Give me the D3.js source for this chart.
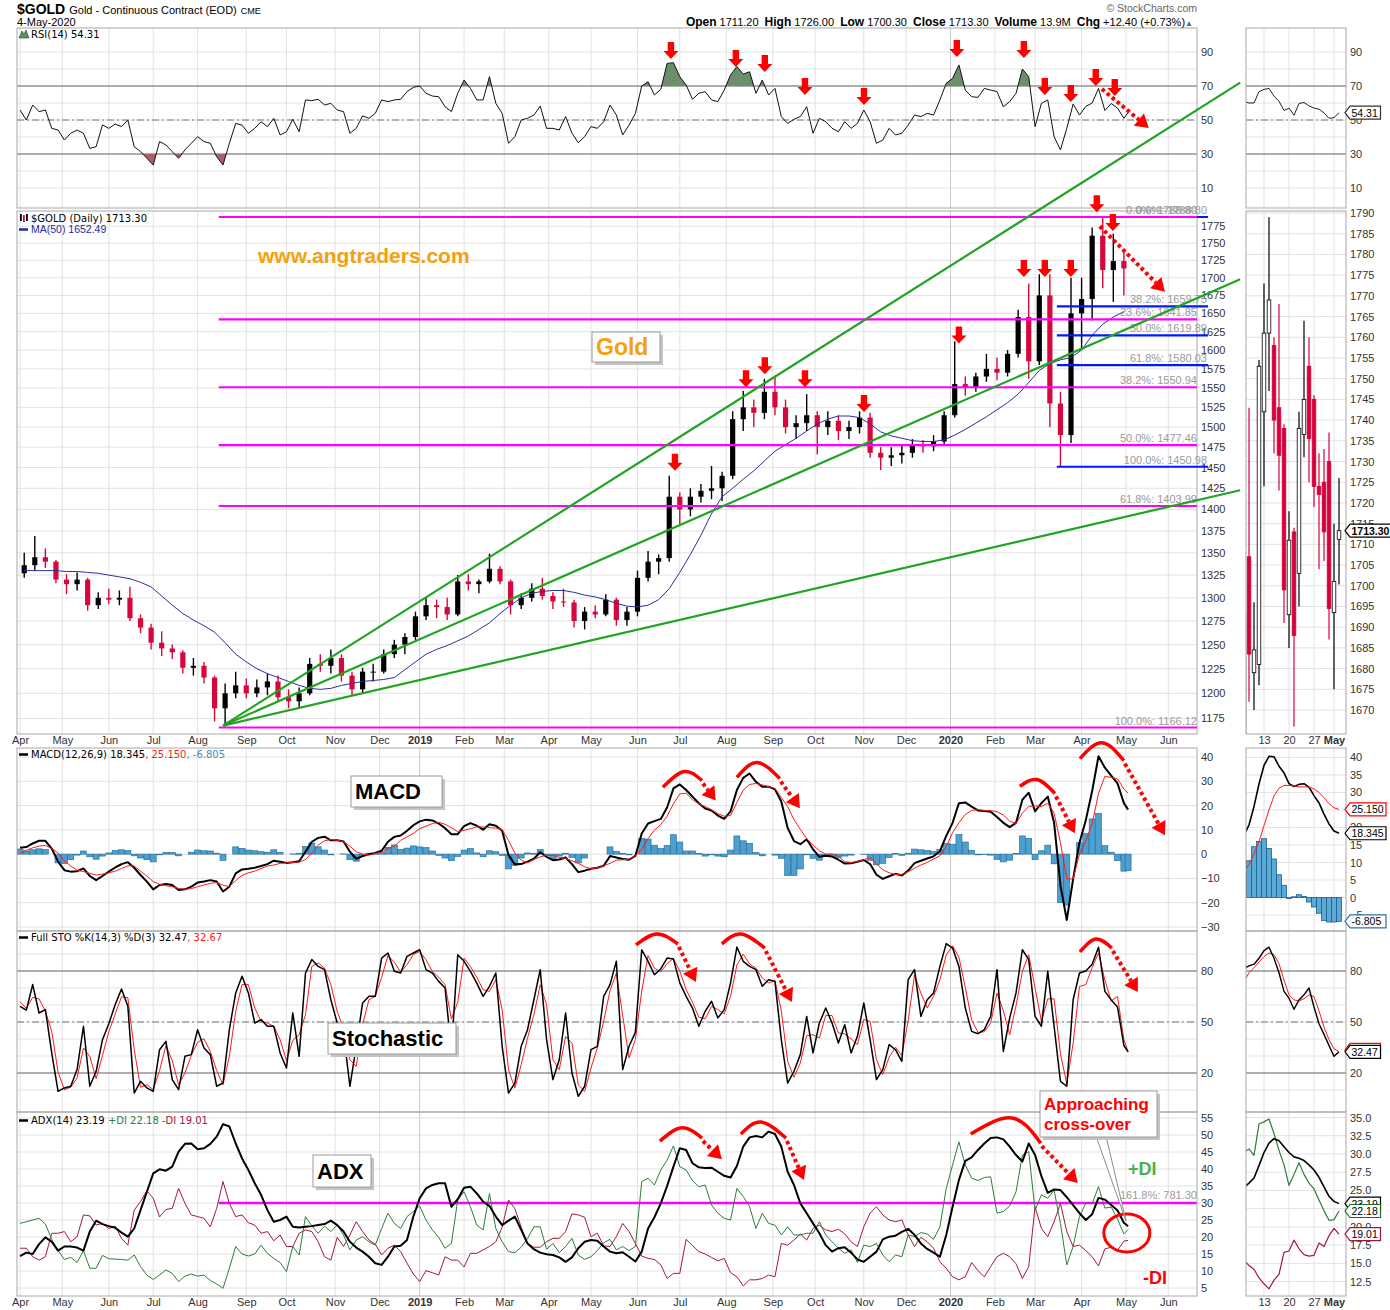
<!DOCTYPE html>
<html lang="en">
<head>
<meta charset="UTF-8">
<title>$GOLD Daily with RSI, MACD, Stochastic and ADX</title>
<script src="https://d3js.org/d3.v7.min.js"></script>
<style>
  body { margin: 0; background: #fff; }
  svg { display: block; font-family: "DejaVu Sans", Verdana, sans-serif; }
  .grid line { stroke: #e2e2e2; stroke-width: 1; }
  .ax path, .ax line { display: none; }
  .ax text { font-family: "Liberation Sans", Arial, sans-serif; font-size: 11px; fill: #333; }
  .fib { font-family: "Liberation Sans", Arial, sans-serif; font-size: 11px; fill: #9a9a9a; }
  .lg { font-size: 10px; }
</style>
</head>
<body>
<script>
// ---------- data ----------
// months on the x axis, with their first trading-day index (day 0 = 2 Apr 2018)
const monthLabels = ["Apr","May","Jun","Jul","Aug","Sep","Oct","Nov","Dec","2019","Feb","Mar","Apr","May","Jun","Jul","Aug","Sep","Oct","Nov","Dec","2020","Feb","Mar","Apr","May","Jun"];
const monthStart = [0,20,42,63,84,107,126,149,170,189,210,229,250,270,292,312,334,356,376,399,419,440,461,480,502,523,543];

// weekly candles (5 trading days each)
const wkOpen = [1327,1336,1345,1340,1320,1315,1320,1292,1300,1298,
  1300,1278,1268,1252,1246,1242,1226,1228,1216,1185,
  1200,1208,1200,1206,1212,1196,1192,1200,1230,1228,
  1236,1218,1204,1222,1222,1240,1250,1258,1280,1292,
  1290,1282,1318,1315,1318,1332,1318,1292,1300,1310,
  1302,1296,1295,1275,1285,1282,1298,1276,1285,1322,
  1340,1344,1415,1400,1415,1422,1425,1440,1510,1525,
  1518,1545,1525,1500,1505,1515,1500,1508,1495,1500,
  1512,1468,1462,1465,1468,1478,1476,1482,1515,1555,
  1550,1565,1575,1570,1595,1645,1585,1675,1530,1490,
  1650,1670,1761,1711,1724];
const wkHigh = [1350,1369,1355,1342,1326,1328,1322,1306,1310,1308,
  1312,1282,1272,1264,1250,1244,1236,1232,1218,1210,
  1222,1215,1214,1220,1218,1204,1206,1236,1240,1245,
  1240,1222,1226,1230,1245,1255,1262,1285,1300,1298,
  1300,1325,1326,1320,1349,1335,1320,1305,1316,1322,
  1306,1310,1298,1290,1292,1304,1300,1290,1330,1352,
  1348,1440,1420,1425,1430,1452,1445,1520,1546,1535,
  1562,1566,1535,1515,1542,1520,1520,1515,1508,1520,
  1518,1475,1475,1478,1485,1484,1490,1520,1612,1565,
  1570,1595,1590,1600,1655,1692,1705,1705,1545,1700,
  1700,1773,1789,1764,1737];
const wkLow = [1322,1330,1333,1316,1304,1308,1286,1288,1293,1292,
  1275,1262,1245,1238,1235,1220,1218,1210,1172,1167,
  1195,1195,1196,1198,1192,1185,1186,1198,1222,1220,
  1212,1198,1200,1212,1220,1236,1240,1255,1276,1278,
  1276,1280,1308,1305,1316,1315,1282,1288,1296,1298,
  1288,1290,1268,1266,1278,1280,1270,1270,1280,1318,
  1326,1340,1383,1392,1408,1412,1410,1436,1495,1500,
  1510,1515,1492,1485,1495,1466,1490,1484,1485,1492,
  1462,1447,1452,1455,1462,1468,1470,1478,1512,1540,
  1545,1558,1560,1565,1590,1562,1580,1500,1451,1480,
  1600,1640,1685,1666,1675];
const wkClose = [1336,1345,1340,1320,1315,1320,1292,1300,1298,1300,
  1278,1268,1252,1246,1242,1226,1228,1216,1185,1200,
  1208,1200,1206,1212,1196,1192,1200,1230,1228,1236,
  1218,1204,1222,1222,1240,1250,1258,1280,1292,1290,
  1282,1318,1315,1318,1332,1318,1292,1300,1310,1302,
  1296,1295,1275,1285,1282,1298,1276,1285,1322,1340,
  1344,1415,1400,1415,1422,1425,1440,1510,1525,1518,
  1545,1525,1500,1505,1515,1500,1508,1495,1500,1512,
  1468,1462,1465,1468,1478,1476,1482,1515,1555,1550,
  1565,1575,1570,1595,1645,1585,1675,1530,1490,1650,
  1670,1761,1711,1724,1713.3];
const ma50 = [1330,1330,1330,1330,1329,1329,1328,1327,1325,1323,
  1321,1317,1312,1302,1292,1283,1276,1270,1263,1252,
  1240,1232,1225,1220,1216,1212,1208,1205,1204,1205,
  1208,1210,1212,1213,1214,1216,1224,1232,1240,1245,
  1249,1254,1259,1266,1273,1283,1292,1300,1305,1307,
  1308,1308,1306,1303,1301,1298,1294,1291,1290,1292,
  1298,1310,1328,1348,1370,1395,1415,1425,1436,1446,
  1458,1470,1478,1486,1495,1504,1510,1514,1514,1512,
  1504,1494,1489,1486,1483,1482,1482,1484,1490,1497,
  1505,1513,1522,1531,1542,1557,1573,1582,1587,1590,
  1600,1620,1635,1645,1652.49];

// indicators, one value every 3 trading days
const rsi = [55.9,50,58.8,54.9,55.9,45.1,44.1,38.2,42.2,44.1,
  42.2,33.3,34.3,47.1,45.1,47.6,46.1,50,34.3,31.4,
  27.5,23.5,37.3,35.3,31.4,27.5,32.4,36.3,40.2,37.3,
  36.3,28.4,23.5,36.3,48,47,42.2,45.1,49,46.1,
  51,41.2,43.1,50.4,43.1,61.8,61.4,62.2,58.8,59.8,
  55.9,54.9,42.2,45.1,52.4,51,53.9,61.8,60.8,61.8,
  62.2,66.7,69.2,70,65.7,64.1,63.7,57.8,54.9,65.7,
  73.5,68.6,61.8,61.8,75.5,59.8,53.9,36.3,40.2,50,
  51,52.9,58.2,45.1,45.1,44.1,52,42.2,36.7,40.2,
  46.1,45.1,49,58.8,52.9,41.2,47,53.9,70,72.5,
  64.7,68,83.3,83.7,75.5,70.6,62.2,65.7,66.7,61.8,
  60.8,67.6,76.5,81.4,77,78.4,65.7,73.5,64.7,68.6,
  52,48,50.4,52,57.8,42.2,51,49,45.1,43.1,
  49,45.1,48,55.9,49,36.3,38.2,45.1,41.2,42.2,
  47,52.9,52,53.9,52.9,61.8,71.6,74.5,82.4,67.6,
  63.7,63.3,68.6,67.6,66.7,57.8,60.8,65.7,80,75.5,
  46.1,59.8,61.8,40.2,32.4,45.1,59.4,52.9,58,60,
  68.6,55.6,59.7,57,51,54.31];
const macdLine = [2.6,2.9,4.4,5.5,5.5,2.3,-3.1,-6.6,-7.2,-7,
  -5.9,-9,-10.7,-9,-7.2,-5.5,-4.1,-3.3,-5.6,-8.6,
  -11.3,-14.5,-12.7,-12.3,-12.7,-14.8,-14.5,-13.4,-11.7,-11.3,
  -10.7,-11.3,-15.4,-13.4,-7.9,-6.3,-6,-5.6,-4.9,-4.1,
  -2.7,-3.1,-3.6,-3.3,-2.9,1,5.1,6.7,7.2,5.7,
  5.7,5.2,1,-1.9,-0.8,0,0.5,1.4,5.1,7.1,
  7.7,9.6,11.9,13.5,14.2,13.9,12.6,10.7,8.2,8.2,
  11.5,12.8,11.7,10.1,12.3,11.7,9.6,-0.4,-4.2,-4.1,
  -3.1,-1.9,0.8,-1.1,-2.5,-2.2,-1.4,-4.1,-7.4,-6.8,
  -6,-5.6,-4.8,-0.8,-1.4,-2,-2.3,-0.7,8.5,12.6,
  13.6,14.5,19.2,27.1,28.7,26.4,23.7,21,18.8,18,
  15.9,14.5,17.6,26.4,31.4,33.2,29.8,27.8,27.8,26.7,
  21.7,10.8,5.4,4.1,6.1,2,-1.1,-0.7,-1,-2.3,
  -3.9,-3.8,-3.1,-2.4,-4.1,-8.5,-10.2,-9.1,-8.1,-8.8,
  -6.8,-3.7,-2.7,-1.8,-0.9,1.2,7.5,12.9,21,21.3,
  19.6,18,17.8,17.5,15.3,12.9,11.1,12.9,22.4,25.3,
  17.6,21,23.7,12.9,-12.9,-27.1,-10.2,4.7,14,26,
  40.3,35.6,32.3,29.1,21,18.345];
const macdSignal = [0.5,1.6,2.6,3.3,3.6,2.3,0.5,-2.7,-4.9,-6.6,
  -7.2,-7.9,-8.6,-8.2,-7.7,-7,-5.9,-4.8,-4.9,-7,
  -9,-11.3,-12.4,-13,-13.4,-14.1,-14.5,-14.2,-13.4,-12.7,
  -12,-11.7,-12.8,-13.4,-10.9,-8.7,-7.7,-7,-5.9,-4.9,
  -4.5,-3.8,-3.6,-3.4,-3.3,-2.2,0.5,3.7,5.5,6,
  5.7,5.1,3.3,1,0,-0.4,0.3,0.8,2.3,3.3,
  5.7,7.1,8.5,10.5,11.5,12.6,13.1,12.3,10.9,9.2,
  9.8,10.5,11.2,11.2,10.9,10.7,10.1,5.7,0.5,-2.5,
  -3.6,-2.2,-1.1,-0.5,-0.5,-1.4,-1.8,-2.7,-3.8,-5.2,
  -6,-5.6,-4.8,-3.8,-2.5,-2.3,-2,-0.7,2,6.4,
  9.9,12.2,15.6,20.7,24.8,25.1,22.4,20.7,19.6,18.3,
  16.7,15.6,15.9,21.3,26.4,28.7,29.1,28.5,27.8,27.1,
  23.4,19.6,14.2,10.2,6.4,3.7,1.4,0,0.1,-0.9,
  -3.1,-3.4,-3.1,-2.3,-1.5,-4.1,-6.4,-7.7,-8.4,-8.3,
  -7.2,-5.8,-4.5,-3.4,-2,-0.7,3.1,8.8,12.9,16.3,
  18,18.3,18,17.9,17.5,16.1,13.6,12.6,16.9,19.6,
  19.9,19.6,21,16.9,4.7,-10.2,-10.2,0,5.5,12.5,
  25,32,31.6,31,26.8,25.15];
const macdHist = [2.1,1.3,1.8,2.2,1.9,0,-3.6,-3.9,-2.3,-0.4,
  1.3,-1.1,-2.1,-0.8,0.5,1.5,1.8,1.5,-0.7,-1.6,
  -2.3,-3.2,-0.3,0.7,0.7,-0.7,0,0.8,1.7,1.4,
  1.3,0.4,-2.6,0,3,2.4,1.7,1.4,1,0.8,
  1.8,0.7,0,0.1,0.4,3.2,4.6,3,1.7,-0.3,
  0,0.1,-2.3,-2.9,-0.8,0.4,0.2,0.6,2.8,3.8,
  2,2.5,3.4,3,2.7,1.3,-0.5,-1.6,-2.7,-1,
  1.7,2.3,0.5,-1.1,1.4,1,-0.5,-6.1,-4.7,-1.6,
  0.5,0.3,1.9,-0.6,-2,-0.8,0.4,-1.4,-3.6,-1.6,
  0,0,0,3,1.1,0.3,-0.3,0,6.5,6.2,
  3.7,2.3,3.6,8,5,1.3,1.3,0.3,-0.8,-0.3,
  -0.8,-1.1,1.7,7.5,5.5,4.5,0.7,-0.7,0,-0.4,
  -1.7,-8.8,-8.8,-6.1,-0.3,-1.7,-2.5,-0.7,-1.1,-1.4,
  -0.8,-0.4,0,-0.1,-2.6,-4.4,-3.8,-1.4,0.3,-0.5,
  0.4,2.1,1.8,1.6,1.1,1.9,4.4,4.1,8.1,5,
  1.6,-0.3,-0.2,-0.4,-2.2,-3.2,-2.5,0.3,7.5,6.5,
  -2.3,1.4,3.7,-4,-20,-21,0,4.7,8.5,14.5,
  16.8,3.5,0.8,-2.7,-7,-6.805];
const stoK = [59.2,57,72,55.3,57.3,31.8,9.2,11.2,12.2,22,
  47.5,12.2,21,39.6,49,60.2,69.4,59.2,8.2,15.1,
  11.2,9.2,33.7,38.6,16.1,10.2,29.8,30.8,45.5,34.7,
  30.8,12.2,14.1,45.5,67.1,76.9,67.1,49.4,51.4,47.5,
  47.5,31.8,22.9,55.3,29.8,78.8,86.7,82.7,80.8,63.1,
  49.4,43.5,12.2,35.7,61.2,65.1,65.1,87.6,90.6,79.8,
  78.8,88.6,90.6,92.5,80.8,78.8,73.9,70,33.7,89.6,
  85.7,79.8,72.9,65.1,71,78.8,35.7,8.2,14.1,35.7,
  45.5,63.1,80.8,39.6,16.1,27.8,55.3,20,6.3,12.2,
  33.7,35.7,65.1,72,85.7,22,35.7,43.9,92.5,85.7,
  77.8,81.2,87.6,87,73,65.1,58.2,47.5,56.3,62.2,
  52.4,57.3,73,94.1,85.7,82.7,80.8,71,74.9,73.9,
  39.6,14.1,21,30.8,53.3,31.8,49.4,58.2,49.4,37.6,
  48.4,31.8,41.6,61.2,39.6,16.1,22,36.7,33.7,26.9,
  74.9,80.8,53.3,63.1,67.1,82.7,96.1,93.5,82.7,58.2,
  44.5,43.1,45.5,53.3,80.8,32.7,52.4,67.1,92.5,86.7,
  53.3,47.5,79.8,47.5,15.1,12.2,63.1,78.8,80,84,
  94,68,63,58.8,36.2,32.47];
const stoD = [62,58,64.5,63.6,56.3,44.5,20.5,10.2,11.7,17.1,
  34.7,29.8,16.6,30.3,44.3,54.6,64.8,64.3,33.7,11.6,
  13.1,10.2,21.4,36.1,27.3,13.1,20,30.3,38.1,40.1,
  32.7,21.5,13.1,29.8,56.3,72,72,58.2,50.4,49.4,
  47.5,39.6,27.3,39.1,42.5,54.3,82.7,84.7,81.7,71.9,
  56.2,46.4,27.8,23.9,48.4,63.1,65.1,76.3,89.1,85.2,
  79.3,83.7,89.6,91.5,86.6,79.8,76.3,71.9,51.8,61.6,
  87.6,82.7,76.3,69,68,74.9,57.2,22,11.1,24.9,
  40.6,54.3,71.9,60.2,27.8,22,41.5,37.6,13.1,9.2,
  22.9,34.7,50.4,68.5,78.8,53.9,28.8,39.8,68.2,89.1,
  81.7,79.5,84.4,87.3,80,69,61.6,52.8,51.9,59.2,
  57.3,54.8,65.1,83.5,89.9,84.2,81.7,75.9,73,74.4,
  56.7,26.8,17.5,25.9,42,42.5,40.6,53.8,53.8,43.5,
  43,40.1,36.7,51.4,50.4,27.8,19,29.3,35.2,30.3,
  50.9,77.8,67,58.2,65.1,74.9,89.4,94.8,88.1,70.4,
  51.3,43.8,44.3,49.4,67,56.7,42.5,59.7,79.8,89.6,
  70,50.4,63.6,63.6,31.3,13.6,37.6,70.9,72,82,
  90.6,74.7,62.4,65,39.6,32.67];
const adx = [14.4,15.4,15,17.9,19.9,18.6,16,17.2,17.2,16.9,
  16,21.6,24.8,23.8,23.2,22.7,21.3,20.1,22.5,27.9,
  33.3,38.7,39.9,39.5,40.7,45.1,47.4,47.5,45.8,46.1,
  47.4,49.5,53.2,52.5,47.5,43.1,39.7,35.8,32.4,27.9,
  24.5,25,26,23,22.8,23,23.2,23.5,23.8,24.8,
  23.5,21.6,18.6,16.9,15.7,14.2,12.3,11.8,14.2,17.2,
  17.4,19.1,26,31.4,34.3,35.3,35.8,35.8,28.9,31.1,
  34.5,34.8,32.8,30.4,29.1,26,23.5,24.8,26,22.1,
  18.1,16.4,15.4,14.9,14.7,14,12.7,14,16.7,18.6,
  19.1,18.9,17.2,15.7,15.2,15.5,14.2,12.8,15.7,22.5,
  25.8,29.9,35,40.7,46.1,45.6,41.7,40.5,40.3,40.4,
  39.2,38,37.5,40.9,46.6,49.3,49.7,49.3,51,50.3,
  46.6,39.2,35.3,29.9,27,24,21.1,17.6,15.7,16.7,
  17,15.4,13.4,12.7,14.2,15.7,19.3,20.1,20.4,21.5,
  22.4,20.6,18.1,16.5,15.4,14.2,20.6,28.9,36.8,42.4,
  43.4,45.6,47.5,49.1,49.3,48.7,46.6,44.1,42.2,47.5,
  44.1,37.9,33,34,33.8,31.7,29.4,27,25,26.7,
  31.5,31,29.4,27.8,24.2,23.19];
const plusDI = [24,24.5,25,25.5,23.8,19.3,16,13.4,14,12.5,
  16,10.8,10.8,14.6,13.6,13.5,13.4,13.2,14.7,11.3,
  8.8,7.5,8.8,10.3,9.3,6.9,8.5,9.1,8.5,8.8,
  7.2,6.2,4.9,10.8,17.2,15,14.4,15,17.6,15.2,
  13.7,12.5,9.8,17.2,14.7,26,23.2,21.1,23.2,21.6,
  23.5,20.6,16.2,19.1,20.1,18.6,17.6,22.5,27,24,
  22.5,26,27.5,29.1,25,22.1,19.9,16.7,18.1,30.9,
  33.3,28.9,23.5,22.1,32.8,22.5,18.6,15.7,15.4,17,
  19.6,23,23,16.4,18.1,15.4,17.2,19.6,14.7,13.4,
  14.2,16,18.3,19.3,16.2,17.2,16,17.2,36.3,37.3,
  35.3,39.7,42.6,46.8,40.7,39.7,36.6,34.8,35.3,29.4,
  27,25.5,25,34.3,31.9,28.9,22.5,27,24,23.5,
  20.6,23,20.6,20.6,21.1,21.1,24.5,20.6,18.6,16.7,
  15.2,16.2,12.5,17.6,17.2,18.1,14.7,12.7,14.7,14.2,
  20.6,20.1,21.3,20.9,19.3,23,34.3,41.2,48,41.2,
  37.3,36.6,37.5,37.7,27,27.5,29.1,33.3,44.1,45.1,
  27.9,32.4,31.4,33.8,24,11.8,17.2,26,30,29.8,
  34.8,28.5,28.8,25.2,20.9,22.18];
const minusDI = [16.7,16.7,14.2,13.2,14.2,21.1,21.1,21.6,18.6,20.1,
  26.5,26.2,23.5,24,22.5,23.2,19.6,17.6,27.9,30.4,
  33.6,31.4,25.9,28.1,28.4,34.3,29.9,26.5,26,25.5,
  23,28.4,36.3,29.9,26,26.5,24.2,23.5,21.1,21.6,
  18.9,20.6,17.2,17.2,21.1,22.1,21.6,18.6,14.2,13.2,
  19.9,17.2,20.6,24.5,21.6,19.1,17.9,14.7,16.7,17.6,
  15.7,12.3,9.1,6.9,10.1,9.5,8.8,14.2,13.2,13.2,
  11.2,15.2,15.2,16.2,17.2,18.6,22.9,30.9,28.3,22.9,
  18.1,17,17,18.6,19.6,19.6,21.6,26.8,26.5,25.8,
  20.1,21.1,17.4,17.2,20.1,24,21.6,18.1,14.4,13.7,
  13.4,11.8,7.8,9.3,9.3,19.3,17.5,15.7,15,14,
  13,13.7,9.5,8.3,5.6,7.4,7.4,7.8,8.8,8.3,
  18.1,17.6,19.1,20.9,19.1,22.5,23.5,22.1,21.6,22.3,
  20.9,18.6,17.2,23,27,28.9,26.5,25,24.5,25,
  20.6,17.2,19.9,18.6,16.7,12.7,10.8,8.3,7.4,8.3,
  12.5,10.1,8.3,11.3,14.2,15.2,14.2,12.1,7.8,11.3,
  28.9,22.5,20.1,24.5,29.9,21.6,17.2,17.6,16,14.2,
  11.5,16.5,17,16.1,18.8,19.01];

// zoomed side panel: daily values 6 Apr - 4 May 2020
const sideOpen = [1650,1707,1679,1681,1742,1761,1758,1743,1738,1693,1713,1703,1736.5,1753,1745,1724,1725,1730,1693.5,1711.2];
const sideHigh = [1694,1743,1696,1754.5,1773,1789,1760,1768,1739,1718,1714,1742,1764,1760,1746,1732,1733,1737,1715,1726];
const sideLow = [1640,1672,1670,1676,1724,1747,1732,1723,1691,1685,1666,1695,1731,1725,1719,1704,1706,1687,1675,1700.3];
const sideClose = [1693,1683.5,1684.5,1753,1761,1769,1740,1731.5,1699,1711,1688,1738,1745,1735.5,1724,1722,1713,1694.5,1701,1713.3];
const sideRsi = [61,60,60,66.7,68,68.6,64,61,55.6,57,52.8,59.7,60.3,58.3,57,56.4,54.2,51,51.4,54.31];
const sideMacd = [17.8,20.7,26,32.4,37.7,40.3,40.2,37.5,35.6,32.5,31.7,32.3,32.5,31.5,29.1,27,23.8,21,19,18.345];
const sideSignal = [7,9.5,12.5,16,20.5,25,29,31.2,32,32,31.8,31.6,31.6,31.5,31,30,28.5,26.8,25.6,25.15];
const sideHist = [10.5,10.5,14.5,16,16.8,14,11,6.5,3.5,-0.3,0.2,0.8,0.3,-1.3,-2.7,-4.5,-6.6,-7,-7,-6.805];
const sideK = [81.5,83,84,87.5,92,94,87.5,79,68,64,57.5,63,66,70,58.8,49,42.7,36.2,29.8,32.47];
const sideD = [73.7,79,82,85.3,88.5,90.6,89.6,84.3,74.7,66,63,62.4,63.7,66,65,56.6,47,39.6,34.2,32.67];
const sideAdx = [25.4,26,26.7,28.4,30.2,31.5,32.1,31.8,31,30.2,29.6,29.4,29.1,28.5,27.8,26.8,25.5,24.2,23.5,23.19];
const sidePlusDI = [30.2,30.7,29.8,34.1,34.4,34.8,32.8,30.5,28.5,25.7,27.2,28.8,27.2,26,25.2,23.7,22.2,20.9,21,22.18];
const sideMinusDI = [15.5,14.7,14.2,13,12.2,11.5,12.7,13.5,16.5,16.7,18.2,17,16.2,16,16.1,17.8,17.3,18.8,19.8,19.01];

// retracement levels drawn on the chart
const fibMagenta = [["0.0%", 1788.80], ["23.6%", 1641.85], ["38.2%", 1550.94], ["50.0%", 1477.46], ["61.8%", 1403.99], ["100.0%", 1166.12]];
const fibBlue = [["0.0%", 1788.80], ["38.2%", 1659.75], ["50.0%", 1619.89], ["61.8%", 1580.03], ["100.0%", 1450.98]];

// ---------- layout ----------
const STEP = 3, LAST = 524;
const W = 1390, H = 1310, L = 17, R = 1197, SL = 1246, SR = 1346;
const svg = d3.select("body").append("svg").attr("width", W).attr("height", H);
const defs = svg.append("defs");

const P = {
  rsi: {t: 28, b: 208},
  price: {t: 211, b: 734},
  macd: {t: 748, b: 931},
  sto: {t: 931, b: 1112},
  adx: {t: 1112, b: 1296}
};

const x = d3.scaleLinear().domain([0, 523]).range([20, 1126]);
const yRsi = d3.scaleLinear().domain([10, 90]).range([188, 52]);
const yPrice = d3.scaleLog().domain([1166.12, 1788.8]).range([727.5, 217]);
const yMacd = d3.scaleLinear().domain([-30, 40]).range([927, 757]);
const ySto = d3.scaleLinear().domain([20, 80]).range([1073, 971]);
const yAdx = d3.scaleLinear().domain([5, 55]).range([1288, 1118]);

const xs = d3.scaleLinear().domain([0, 19]).range([1244, 1339]);
const sPrice = d3.scaleLinear().domain([1670, 1790]).range([710, 213]);
const sMacd = d3.scaleLinear().domain([0, 40]).range([897.5, 757.4]);
const sAdx = d3.scaleLinear().domain([12.5, 35]).range([1281.6, 1117.5]);

const S = arr => arr.map((v, i) => [Math.min(i * STEP, LAST), v]);
const SS = arr => arr.map((v, j) => [j, v]);

function clip(id, x0, p) {
  defs.append("clipPath").attr("id", id).append("rect")
    .attr("x", x0[0]).attr("y", p.t).attr("width", x0[1] - x0[0]).attr("height", p.b - p.t);
  return `url(#${id})`;
}

function grid(p, y, ticks, x0, x1, vx, dark) {
  const g = svg.append("g").attr("class", "grid");
  g.selectAll(null).data(ticks).enter().append("line")
    .attr("x1", x0).attr("x2", x1).attr("y1", d => y(d)).attr("y2", d => y(d));
  g.selectAll(null).data(vx).enter().append("line")
    .attr("x1", d => d).attr("x2", d => d).attr("y1", p.t).attr("y2", p.b)
    .style("stroke", (d, i) => dark && dark[i] ? "#c9c9c9" : null);
}

function frame(p, x0, x1) {
  svg.append("rect").attr("x", x0).attr("y", p.t).attr("width", x1 - x0).attr("height", p.b - p.t)
    .attr("fill", "none").attr("stroke", "#a8a8a8");
}

function hline(y, v, x0, x1, color, dash, w) {
  svg.append("line").attr("x1", x0).attr("x2", x1).attr("y1", y(v)).attr("y2", y(v))
    .attr("stroke", color).attr("stroke-width", w || 1).attr("stroke-dasharray", dash || null);
}

function drawLine(data, xf, yf, color, width, clipUrl) {
  svg.append("path").datum(data)
    .attr("d", d3.line().x(d => xf(d[0])).y(d => yf(d[1])))
    .attr("fill", "none").attr("stroke", color).attr("stroke-width", width)
    .attr("stroke-linejoin", "round").attr("clip-path", clipUrl);
}

function rightAxis(y, vals, xpos, fmt) {
  const a = d3.axisRight(y).tickValues(vals).tickSize(0).tickPadding(4);
  if (fmt) a.tickFormat(fmt);
  svg.append("g").attr("class", "ax").attr("transform", `translate(${xpos},0)`).call(a);
}

const monthX = monthStart.map(d => x(d));
const yearMark = monthLabels.map(m => /^\d{4}$/.test(m));
const sideGridX = [4, 9, 14, 18].map(d => xs(d));

// ---------- grids & frames ----------
const rsiTicks = d3.range(10, 100, 10);
const priceTicks = d3.range(1175, 1800, 25);
const macdTicks = d3.range(-30, 41, 10);
const stoTicks = d3.range(10, 100, 10);
const adxTicks = d3.range(5, 56, 5);

grid(P.rsi, yRsi, rsiTicks, L, R, monthX, yearMark);
grid(P.price, yPrice, priceTicks, L, R, monthX, yearMark);
grid(P.macd, yMacd, macdTicks, L, R, monthX, yearMark);
grid(P.sto, ySto, stoTicks, L, R, monthX, yearMark);
grid(P.adx, yAdx, adxTicks, L, R, monthX, yearMark);

grid(P.rsi, yRsi, rsiTicks, SL, SR, sideGridX);
grid(P.price, sPrice, d3.range(1670, 1791, 5), SL, SR, sideGridX);
grid(P.macd, sMacd, d3.range(-5, 41, 5), SL, SR, sideGridX);
grid(P.sto, ySto, stoTicks, SL, SR, sideGridX);
grid(P.adx, sAdx, d3.range(12.5, 35.1, 2.5), SL, SR, sideGridX);

// reference lines
[[L, R], [SL, SR]].forEach(([a, b]) => {
  hline(yRsi, 70, a, b, "#6a6a6a");
  hline(yRsi, 30, a, b, "#6a6a6a");
  hline(yRsi, 50, a, b, "#777", "7,3,2,3");
  hline(ySto, 80, a, b, "#6a6a6a");
  hline(ySto, 20, a, b, "#6a6a6a");
  hline(ySto, 50, a, b, "#777", "7,3,2,3");
});

const cRsi = clip("cRsi", [L, R], P.rsi), cPrice = clip("cPrice", [L, R], P.price);
const cMacd = clip("cMacd", [L, R], P.macd), cSto = clip("cSto", [L, R], P.sto), cAdx = clip("cAdx", [L, R], P.adx);
const sRsiC = clip("sRsi", [SL, SR], P.rsi), sPriceC = clip("sPrice", [SL, SR], P.price);
const sMacdC = clip("sMacd", [SL, SR], P.macd), sStoC = clip("sSto", [SL, SR], P.sto), sAdxC = clip("sAdx", [SL, SR], P.adx);
const hiClip = (id, xr, y) => clip(id, xr, {t: P.rsi.t, b: y});
const loClip = (id, xr, y) => clip(id, xr, {t: y, b: P.rsi.b});

// ---------- RSI ----------
function rsiFills(data, xf, xr, key) {
  const area = d3.area().x(d => xf(d[0])).y1(d => yRsi(d[1]));
  svg.append("path").datum(data).attr("d", area.y0(yRsi(70)))
    .attr("fill", "#6b8f6b").attr("clip-path", hiClip(key + "hi", xr, yRsi(70)));
  svg.append("path").datum(data).attr("d", area.y0(yRsi(30)))
    .attr("fill", "#a5606a").attr("clip-path", loClip(key + "lo", xr, yRsi(30)));
}
rsiFills(S(rsi), x, [L, R], "m");
drawLine(S(rsi), x, yRsi, "#111", 1, cRsi);
drawLine(SS(sideRsi), xs, yRsi, "#222", 1, sRsiC);

// ---------- price ----------
const weeks = wkClose.map((c, w) => ({
  idx: w * 5 + 2, o: wkOpen[w], h: wkHigh[w], l: wkLow[w], c,
  up: c >= (w ? wkClose[w - 1] : wkOpen[w])
}));
const cg = svg.append("g").attr("clip-path", cPrice);
cg.selectAll(null).data(weeks).enter().append("line")
  .attr("x1", d => x(d.idx)).attr("x2", d => x(d.idx))
  .attr("y1", d => yPrice(d.h)).attr("y2", d => yPrice(d.l))
  .attr("stroke", d => d.up ? "#000" : "#d6083b").attr("stroke-width", 1.4);
cg.selectAll(null).data(weeks).enter().append("rect")
  .attr("x", d => x(d.idx) - 2.6).attr("width", 5.2)
  .attr("y", d => yPrice(Math.max(d.o, d.c)))
  .attr("height", d => Math.max(1, yPrice(Math.min(d.o, d.c)) - yPrice(Math.max(d.o, d.c))))
  .attr("fill", d => d.up ? "#000" : "#d6083b");
drawLine(ma50.map((v, w) => [w * 5 + 2, v]), x, yPrice, "#2b2f9e", 1, cPrice);

// side candles
const sc = svg.append("g").attr("clip-path", sPriceC);
const sideBars = sideClose.map((c, j) => ({
  j, o: sideOpen[j], h: sideHigh[j], l: sideLow[j], c,
  up: c >= (j ? sideClose[j - 1] : sideOpen[j])
}));
sc.selectAll(null).data(sideBars).enter().append("line")
  .attr("x1", d => xs(d.j)).attr("x2", d => xs(d.j))
  .attr("y1", d => sPrice(d.h)).attr("y2", d => sPrice(d.l))
  .attr("stroke", d => d.up ? "#000" : "#d6003a").attr("stroke-width", 1.2);
sc.selectAll(null).data(sideBars).enter().append("rect")
  .attr("x", d => xs(d.j) - 1.8).attr("width", 3.6)
  .attr("y", d => sPrice(Math.max(d.o, d.c)))
  .attr("height", d => Math.max(1, sPrice(Math.min(d.o, d.c)) - sPrice(Math.max(d.o, d.c))))
  .attr("fill", d => d.c > d.o ? "#fff" : (d.up ? "#000" : "#d6003a"))
  .attr("stroke", d => d.up ? "#000" : "#d6003a").attr("stroke-width", 0.8);

// ---------- MACD ----------
const hb = svg.append("g").attr("clip-path", cMacd);
hb.selectAll(null).data(S(macdHist)).enter().append("rect")
  .attr("x", d => x(d[0]) - 3).attr("width", 6)
  .attr("y", d => yMacd(Math.max(0, d[1])))
  .attr("height", d => Math.abs(yMacd(d[1]) - yMacd(0)))
  .attr("fill", "#4d9fcf").attr("stroke", "#1d6996").attr("stroke-width", 0.6);
drawLine(S(macdLine), x, yMacd, "#000", 2, cMacd);
drawLine(S(macdSignal), x, yMacd, "#ff1a1a", 1, cMacd);

const shb = svg.append("g").attr("clip-path", sMacdC);
shb.selectAll(null).data(SS(sideHist)).enter().append("rect")
  .attr("x", d => xs(d[0]) - 2.5).attr("width", 5)
  .attr("y", d => sMacd(Math.max(0, d[1])))
  .attr("height", d => Math.abs(sMacd(d[1]) - sMacd(0)))
  .attr("fill", "#5aa9d6").attr("stroke", "#1b5f8a").attr("stroke-width", 0.8);
drawLine(SS(sideMacd), xs, sMacd, "#000", 1.6, sMacdC);
drawLine(SS(sideSignal), xs, sMacd, "#ff1a1a", 1, sMacdC);

// ---------- Stochastic ----------
drawLine(S(stoD), x, ySto, "#ff1a1a", 1, cSto);
drawLine(S(stoK), x, ySto, "#000", 1.5, cSto);
drawLine(SS(sideD), xs, ySto, "#ff1a1a", 1, sStoC);
drawLine(SS(sideK), xs, ySto, "#000", 1.4, sStoC);

// ---------- ADX ----------
svg.append("line").attr("x1", x(94)).attr("x2", R).attr("y1", yAdx(30)).attr("y2", yAdx(30))
  .attr("stroke", "#ff00ff").attr("stroke-width", 2.5);
drawLine(S(minusDI), x, yAdx, "#a3173f", 1, cAdx);
drawLine(S(plusDI), x, yAdx, "#2e7d3a", 1, cAdx);
drawLine(S(adx), x, yAdx, "#000", 2, cAdx);
drawLine(SS(sideMinusDI), xs, sAdx, "#a3173f", 1.2, sAdxC);
drawLine(SS(sidePlusDI), xs, sAdx, "#2e7d3a", 1.2, sAdxC);
drawLine(SS(sideAdx), xs, sAdx, "#000", 1.6, sAdxC);

// ---------- frames ----------
Object.values(P).forEach(p => { frame(p, L, R); frame(p, SL, SR); });

// ---------- axes ----------
rightAxis(yRsi, [90, 70, 50, 30, 10], R);
rightAxis(yPrice, priceTicks, R, d3.format("d"));
rightAxis(yMacd, macdTicks, R);
rightAxis(ySto, [80, 50, 20], R);
rightAxis(yAdx, adxTicks, R);
rightAxis(yRsi, [90, 70, 50, 30, 10], SR);
rightAxis(sPrice, d3.range(1670, 1791, 5), SR, d3.format("d"));
rightAxis(sMacd, d3.range(-5, 41, 5), SR);
rightAxis(ySto, [80, 50, 20], SR);
rightAxis(sAdx, d3.range(12.5, 35.1, 2.5), SR, d3.format(".1f"));

function monthAxis(yPos) {
  const a = d3.axisBottom(x).tickValues(monthStart).tickFormat((d, i) => monthLabels[i]).tickSize(0).tickPadding(2);
  const g = svg.append("g").attr("class", "ax").attr("transform", `translate(0,${yPos})`).call(a);
  g.selectAll("text").style("font-weight", (d, i) => yearMark[i] ? "bold" : null);
  const s = d3.axisBottom(xs).tickValues([4, 9, 14, 18]).tickFormat(d => ({4: "13", 9: "20", 14: "27", 18: "May"})[d]).tickSize(0).tickPadding(2);
  const g2 = svg.append("g").attr("class", "ax").attr("transform", `translate(0,${yPos})`).call(s);
  g2.selectAll("text").style("font-weight", d => d === 18 ? "bold" : null);
}
monthAxis(P.price.b);
monthAxis(P.adx.b);

// ---------- annotations ----------
const RED = "#ff0000";
const ann = svg.append("g");

function blockArrow(px, py) {
  ann.append("path")
    .attr("d", `M${px},${py}L${px - 7.5},${py - 8}L${px - 3.2},${py - 8}L${px - 3.2},${py - 17}L${px + 3.2},${py - 17}L${px + 3.2},${py - 8}L${px + 7.5},${py - 8}Z`)
    .attr("fill", RED);
}
function dottedArrow(x0, y0, x1, y1) {
  const a = Math.atan2(y1 - y0, x1 - x0), hl = 13, hw = 8;
  const bx = x1 - hl * Math.cos(a), by = y1 - hl * Math.sin(a);
  ann.append("line").attr("x1", x0).attr("y1", y0).attr("x2", bx).attr("y2", by)
    .attr("stroke", RED).attr("stroke-width", 4).attr("stroke-dasharray", "3.5,3");
  ann.append("path")
    .attr("d", `M${x1},${y1}L${bx - hw * Math.sin(a)},${by + hw * Math.cos(a)}L${bx + hw * Math.sin(a)},${by - hw * Math.cos(a)}Z`)
    .attr("fill", RED);
}
function arcArrow(spec, y) {
  const pts = spec.arc.map(d => [x(d[0]), y(d[1])]);
  ann.append("path").attr("d", d3.line().curve(d3.curveNatural)(pts))
    .attr("fill", "none").attr("stroke", RED).attr("stroke-width", 3.5);
  const e = pts[pts.length - 1];
  dottedArrow(e[0] + 1, e[1] + 3, x(spec.to[0]), y(spec.to[1]));
}

// fib lines (blue first so the magenta top line covers it)
fibBlue.forEach(([pct, v]) => {
  ann.append("line").attr("x1", x(490.3)).attr("x2", 1208).attr("y1", yPrice(v)).attr("y2", yPrice(v))
    .attr("stroke", "#0019ff").attr("stroke-width", 2.2);
  ann.append("text").attr("class", "fib").attr("x", 1207).attr("y", yPrice(v) - 3)
    .attr("text-anchor", "end").text(`${pct}: ${v.toFixed(2)}`);
});
fibMagenta.forEach(([pct, v]) => {
  ann.append("line").attr("x1", x(94)).attr("x2", R).attr("y1", yPrice(v)).attr("y2", yPrice(v))
    .attr("stroke", "#ff00ff").attr("stroke-width", 2.2);
  ann.append("text").attr("class", "fib").attr("x", R).attr("y", yPrice(v) - 3)
    .attr("text-anchor", "end").text(`${pct}: ${v.toFixed(2)}`);
});
ann.append("text").attr("class", "fib").attr("x", R).attr("y", yAdx(30) - 4)
  .attr("text-anchor", "end").text("161.8%: 781.30");

// trend lines from the Aug 2018 low
const trendFrom = [96, 1168];
const trendTo = [[577, 2002], [577, 1698], [577, 1422.7]];
trendTo.forEach(t => {
  ann.append("line").attr("x1", x(trendFrom[0])).attr("y1", yPrice(trendFrom[1]))
    .attr("x2", x(t[0])).attr("y2", yPrice(t[1]))
    .attr("stroke", "#22a322").attr("stroke-width", 2.2);
});

const rsiArrowTips = [[307.8,85.9],[338.5,81.2],[352.2,78.2],[371.2,64.7],[399.1,58.8],[443,87.1],[474.7,86.5],[484.6,64.7],[496.9,60.6],[508.7,70],[517.7,64.1]];
rsiArrowTips.forEach(d => blockArrow(x(d[0]), yRsi(d[1])));
dottedArrow(x(511.6), yRsi(68.2), x(533.8), yRsi(45.3));

const priceArrowTips = [[509.2,1796],[516.8,1768],[474.7,1701],[484.6,1701],[496.9,1701],[444,1609],[343.3,1551],[352.2,1568],[371.2,1551],[399.1,1519],[309.7,1446]];
priceArrowTips.forEach(d => blockArrow(x(d[0]), yPrice(d[1])));
dottedArrow(x(510.6), yPrice(1775), x(541.4), yPrice(1680));

const macdArcs = [
  {arc: [[304,27.5],[314,34],[322.5,30.3]], to: [329,22.1]},
  {arc: [[339,31.6],[348.5,37.7],[359.3,31.1]], to: [368.8,18.9]},
  {arc: [[472.8,27.9],[480.9,30.7],[489.4,25]], to: [498.8,8.6]},
  {arc: [[501.2,39.3],[511.6,45.9],[522,38.5]], to: [541.4,7.8]}
];
const stoArcs = [
  {arc: [[291.3,95.3],[301.2,101.8],[311.1,95.9]], to: [319.6,73.5]},
  {arc: [[331.9,95.9],[340.9,101.8],[352.2,93.5]], to: [365,61.8]},
  {arc: [[501.2,91.2],[508.7,98.8],[516.3,93.5]], to: [528.6,67.6]}
];
const adxArcs = [
  {arc: [[302.6,48.2],[313,52.1],[322.5,49.1]], to: [331.9,42.9]},
  {arc: [[340.9,50.3],[350.4,53.8],[362.2,49.1]], to: [370.7,36.8]},
  {arc: [[449.6,50.3],[469,55],[482.7,47.6]], to: [500.2,35.9]}
];
macdArcs.forEach(s => arcArrow(s, yMacd));
stoArcs.forEach(s => arcArrow(s, ySto));
adxArcs.forEach(s => arcArrow(s, yAdx));

// cross-over circle and callout
ann.append("ellipse").attr("cx", x(523.4)).attr("cy", yAdx(21.2)).attr("rx", 23).attr("ry", 19)
  .attr("fill", "none").attr("stroke", RED).attr("stroke-width", 3);

function textBox(x0, y0, w, h, lines, color, size) {
  ann.append("rect").attr("x", x0 + 3).attr("y", y0 + 3).attr("width", w).attr("height", h).attr("fill", "#c4c4c4");
  ann.append("rect").attr("x", x0).attr("y", y0).attr("width", w).attr("height", h)
    .attr("fill", "#fff").attr("stroke", "#9a9a9a");
  lines.forEach((t, i) => {
    ann.append("text").attr("x", x0 + 4).attr("y", y0 + (lines.length > 1 ? 19 + i * 20 : h / 2 + size * 0.36))
      .attr("fill", color).style("font-family", "'Liberation Sans', Arial, sans-serif")
      .style("font-weight", "bold").style("font-size", size + "px").text(t);
  });
}
ann.append("path").attr("d", "M1096,1136L1106,1136L1126,1221Z").attr("fill", "#fff").attr("stroke", "#8c8c8c");
textBox(1040, 1091, 117, 46, ["Approaching", "cross-over"], "#ff0000", 17);
textBox(592, 332, 68, 30, ["Gold"], "#f5a10b", 23);
textBox(351, 776, 91, 31, ["MACD"], "#000", 22);
textBox(328, 1023, 128, 31, ["Stochastic"], "#000", 22);
textBox(313, 1155, 58, 32, ["ADX"], "#000", 22);

ann.append("text").attr("x", 258).attr("y", 263).attr("fill", "#f5a10b")
  .style("font-family", "'Liberation Sans', Arial, sans-serif").style("font-weight", "bold").style("font-size", "21px")
  .text("www.angtraders.com");
ann.append("text").attr("x", 1128).attr("y", 1175).attr("fill", "#4cb04c")
  .style("font-family", "'Liberation Sans', Arial, sans-serif").style("font-weight", "bold").style("font-size", "18px").text("+DI");
ann.append("text").attr("x", 1143).attr("y", 1284).attr("fill", "#ff0000")
  .style("font-family", "'Liberation Sans', Arial, sans-serif").style("font-weight", "bold").style("font-size", "18px").text("-DI");

// ---------- side value tags ----------
function tag(y, text, stroke, bold) {
  const w = text.length * (bold ? 5.6 : 5.5) + 3;
  svg.append("path").attr("d", `M1345,${y}L1350,${y - 6.5}L${1350 + w},${y - 6.5}L${1350 + w},${y + 6.5}L1350,${y + 6.5}Z`)
    .attr("fill", "#fff").attr("stroke", stroke).attr("stroke-width", 1.2);
  svg.append("text").attr("x", 1351.5).attr("y", y + 4).text(text)
    .style("font-family", "'Liberation Sans', Arial, sans-serif").style("font-size", bold ? "10.5px" : "10.5px")
    .style("font-weight", bold ? "bold" : null).attr("fill", "#000");
}
tag(yRsi(54.31), "54.31", "#333");
tag(sPrice(1713.3), "1713.30", "#000", true);
tag(sMacd(25.15), "25.150", "#ff0000");
tag(sMacd(18.345), "18.345", "#000");
tag(sMacd(-6.805), "-6.805", "#2c6fb0");
tag(ySto(32.67) - 1.5, "32.67", "#ff0000");
tag(ySto(32.47), "32.47", "#000");
tag(sAdx(23.19), "23.19", "#000");
tag(sAdx(22.18), "22.18", "#1d6b2a");
tag(sAdx(19.01), "19.01", "#a3173f");

// ---------- header & legends ----------
const narrow = "'Liberation Sans Narrow', 'Liberation Sans', Arial, sans-serif";
const head = svg.append("text").attr("x", L).attr("y", 14).style("font-family", narrow);
head.append("tspan").style("font-weight", "bold").style("font-size", "14px").text("$GOLD");
head.append("tspan").style("font-size", "11px").attr("dx", 4).text("Gold - Continuous Contract (EOD)");
head.append("tspan").style("font-size", "9px").attr("dx", 4).text("CME");
svg.append("text").attr("x", L).attr("y", 26).style("font-family", narrow).style("font-size", "11px").text("4-May-2020");
svg.append("text").attr("x", R).attr("y", 12).attr("text-anchor", "end").attr("fill", "#666")
  .style("font-family", "'Liberation Sans', Arial, sans-serif").style("font-size", "10.5px").text("\u00A9 StockCharts.com");
const ohlc = svg.append("text").attr("x", 1190).attr("y", 26).attr("text-anchor", "end").style("font-family", narrow).style("font-size", "11px");
[["Open", " 1711.20 "], ["High", " 1726.00 "], ["Low", " 1700.30 "], ["Close", " 1713.30 "], ["Volume", " 13.9M "], ["Chg", " +12.40 (+0.73%)"]]
  .forEach(([k, v]) => {
    ohlc.append("tspan").style("font-weight", "bold").style("font-size", "12px").attr("dx", 3).text(k);
    ohlc.append("tspan").text(v);
  });
ohlc.append("tspan").attr("fill", "#666").style("font-size", "8px").text("\u25B2");

function legend(y, parts, icon) {
  const t = svg.append("text").attr("class", "lg").attr("x", 31).attr("y", y);
  parts.forEach(([s, c]) => t.append("tspan").attr("fill", c).text(s));
  if (icon) svg.append("line").attr("x1", 19).attr("x2", 28).attr("y1", y - 3.5).attr("y2", y - 3.5)
    .attr("stroke", icon).attr("stroke-width", 2.5);
}
svg.append("path").attr("d", "M19,38L22,31L24,34L26,30L29,38Z").attr("fill", "#5f8f5f").attr("stroke", "#2d4d2d").attr("stroke-width", 0.6);
legend(38, [["RSI(14) 54.31", "#000"]]);
legend(222, [["$GOLD (Daily) 1713.30", "#000"]]);
[20, 23, 26].forEach((px, i) => svg.append("rect").attr("x", px).attr("y", 214 + (i % 2)).attr("width", 1.8).attr("height", 7).attr("fill", i === 1 ? "#d6083b" : "#000"));
svg.append("text").attr("x", 31).attr("y", 233).attr("fill", "#1f2a9c").style("font-family", narrow).style("font-size", "10.5px").text("MA(50) 1652.49");
svg.append("line").attr("x1", 19).attr("x2", 28).attr("y1", 229.5).attr("y2", 229.5).attr("stroke", "#1f2a9c").attr("stroke-width", 2.5);
legend(758, [["MACD(12,26,9) 18.345", "#000"], [", 25.150", "#ff1a1a"], [", -6.805", "#3d8dc0"]], "#000");
legend(941, [["Full STO %K(14,3) %D(3) 32.47", "#000"], [", 32.67", "#ff1a1a"]], "#000");
legend(1124, [["ADX(14) 23.19 ", "#000"], ["+DI 22.18 ", "#2e7d3a"], ["-DI 19.01", "#a3173f"]], "#000");
</script>
</body>
</html>
